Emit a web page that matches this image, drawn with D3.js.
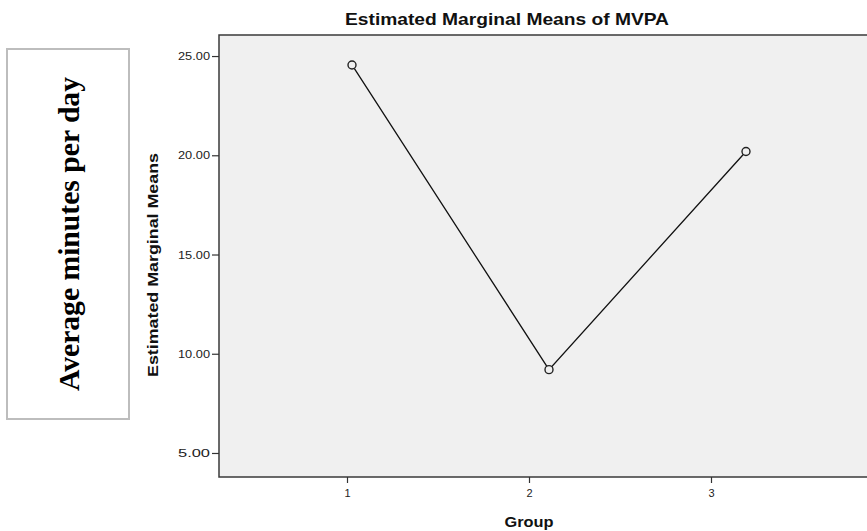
<!DOCTYPE html>
<html><head><meta charset="utf-8">
<script src="https://cdnjs.cloudflare.com/ajax/libs/d3/7.8.5/d3.min.js"></script>
<style>body{margin:0;background:#fff}svg{display:block}</style>
</head><body>
<script>
const groups = [1, 2, 3];
const means = [24.55, 9.2, 20.19];
const yTicks = [5, 10, 15, 20, 25];
const xTickLabels = ["1", "2", "3"];

const W = 867, H = 531;
const SANS = "Arial, 'Liberation Sans', sans-serif";
const svg = d3.select("body").append("svg").attr("width", W).attr("height", H);

const plot = {left: 219, top: 35, right: 868, bottom: 477};
const y = d3.scaleLinear().domain([3.79, 26.06]).range([plot.bottom, plot.top]);
// axis tick positions
const xAxisScale = d3.scalePoint().domain(xTickLabels).range([347, 711]);
// data positions
const x = d3.scaleLinear().domain([1, 3]).range([352, 746]);

svg.append("rect").attr("x", plot.left).attr("y", plot.top)
  .attr("width", plot.right - plot.left).attr("height", plot.bottom - plot.top)
  .attr("fill", "#f0f0f0").attr("stroke", "#3a3a3a").attr("stroke-width", 1.5);

// y axis
const ya = svg.append("g").attr("transform", `translate(${plot.left},0)`)
  .call(d3.axisLeft(y).tickValues(yTicks).tickFormat(d3.format(".2f")).tickSize(7).tickSizeOuter(0).tickPadding(2));
ya.select(".domain").remove();
ya.selectAll("line").attr("stroke", "#333").attr("stroke-width", 1.2);
ya.selectAll("text").attr("font-family", SANS).attr("font-size", 11).attr("fill", "#222")
  .attr("textLength", 32).attr("lengthAdjust", "spacingAndGlyphs");

// x axis
const xa = svg.append("g").attr("transform", `translate(0,${plot.bottom})`)
  .call(d3.axisBottom(xAxisScale).tickSize(6).tickSizeOuter(0));
xa.select(".domain").remove();
xa.selectAll("line").attr("stroke", "#333").attr("stroke-width", 1.2);
xa.selectAll("text").attr("font-family", SANS).attr("font-size", 11).attr("fill", "#222")
  .attr("dy", null).attr("y", 20);

// line
const pts = groups.map((g, i) => [g, means[i]]);
svg.append("path").datum(pts)
  .attr("d", d3.line().x(d => x(d[0])).y(d => y(d[1])))
  .attr("fill", "none").attr("stroke", "#111").attr("stroke-width", 1.3);
svg.selectAll("circle.pt").data(pts).join("circle").attr("class", "pt")
  .attr("cx", d => x(d[0])).attr("cy", d => y(d[1])).attr("r", 4)
  .attr("fill", "#f0f0f0").attr("stroke", "#222").attr("stroke-width", 1.4);

// titles
svg.append("text").attr("x", 507).attr("y", 25).attr("text-anchor", "middle")
  .attr("font-family", SANS).attr("font-weight", "bold").attr("font-size", 17)
  .attr("textLength", 324).attr("lengthAdjust", "spacingAndGlyphs")
  .attr("fill", "#111").text("Estimated Marginal Means of MVPA");
svg.append("text").attr("transform", "translate(157.5,265) rotate(-90)").attr("text-anchor", "middle")
  .attr("font-family", SANS).attr("font-weight", "bold").attr("font-size", 14)
  .attr("textLength", 224).attr("lengthAdjust", "spacingAndGlyphs")
  .attr("fill", "#111").text("Estimated Marginal Means");
svg.append("text").attr("x", 529).attr("y", 527).attr("text-anchor", "middle")
  .attr("font-family", SANS).attr("font-weight", "bold").attr("font-size", 14)
  .attr("textLength", 49).attr("lengthAdjust", "spacingAndGlyphs")
  .attr("fill", "#111").text("Group");

// left boxed annotation
svg.append("rect").attr("x", 7).attr("y", 49).attr("width", 122).attr("height", 370)
  .attr("fill", "#fff").attr("stroke", "#bdbdbd").attr("stroke-width", 2);
svg.append("text").attr("transform", "translate(79,234) rotate(-90)").attr("text-anchor", "middle")
  .attr("font-family", "'Liberation Serif', 'Times New Roman', serif").attr("font-weight", "bold").attr("font-size", 29)
  .attr("textLength", 314).attr("lengthAdjust", "spacingAndGlyphs")
  .attr("fill", "#000").text("Average minutes per day");
</script>
</body></html>
